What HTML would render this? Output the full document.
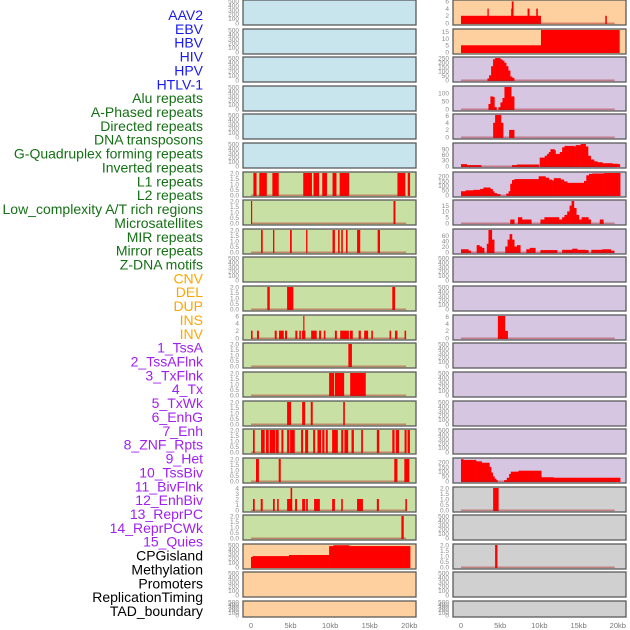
<!DOCTYPE html>
<html><head><meta charset="utf-8">
<style>
html,body{margin:0;padding:0;background:#fff;}
#wrap{position:relative;width:630px;height:630px;overflow:hidden;}
svg text{font-family:"Liberation Sans",sans-serif;}
</style></head>
<body>
<div id="wrap">
<svg id="chart" width="630" height="630" viewBox="0 0 630 630"></svg>
</div>
<script>
// ---- track labels ----
const trackLabels = ["AAV2","EBV","HBV","HIV","HPV","HTLV-1","Alu repeats","A-Phased repeats","Directed repeats","DNA transposons","G-Quadruplex forming repeats","Inverted repeats","L1 repeats","L2 repeats","Low_complexity A/T rich regions","Microsatellites","MIR repeats","Mirror repeats","Z-DNA motifs","CNV","DEL","DUP","INS","INV","1_TssA","2_TssAFlnk","3_TxFlnk","4_Tx","5_TxWk","6_EnhG","7_Enh","8_ZNF_Rpts","9_Het","10_TssBiv","11_BivFlnk","12_EnhBiv","13_ReprPC","14_ReprPCWk","15_Quies","CPGisland","Methylation","Promoters","ReplicationTiming","TAD_boundary"];
const labelGroups = [6,13,5,15,5];
const labelColors = ["#1a1aee","#157015","#ffa500","#a020f0","#000000"];
const xTickValues = [0,5,10,15,20];
const xTickLabels = ["0","5kb","10kb","15kb","20kb"];

// ---- left column interval data (kb) ----
const L6_s=[0.3,1.05,2.7,6.6,7.9,9.0,10.3,11.2,18.5,19.8];
const L6_e=[0.7,2.0,3.5,7.7,8.6,9.6,10.8,12.4,19.5,20.1];
const L7_s=[0,18.0];
const L7_e=[0.15,18.25];
const L8_s=[1.27,2.78,4.93,6.96,10.3,11.0,11.4,12.0,13.4,16.0];
const L8_e=[1.48,2.95,5.15,7.13,10.6,11.2,11.6,12.2,13.8,16.3];
const L10_s=[2.06,4.56,17.85];
const L10_e=[2.37,5.35,18.2];
const L11_s=[0,0.76,3.0,3.54,4.3,5.6,6.1,6.45,6.6,7.6,8.6,9.2,10.6,11.27,12.5,13.6,14.3,15.2,17.5,18.2,19.4];
const L11_e=[0.2,1.0,3.25,4.14,4.56,5.86,6.3,6.87,6.75,8.3,8.86,9.4,10.85,12.37,12.86,13.88,14.8,15.4,17.7,18.5,19.6];
const L11_v=[2,2,2,2,2,2,2,2,6,2,2,2,2,2,2,2,2,2,2,2,2];
const L12_s=[12.3];
const L12_e=[12.75];
const L13_s=[9.87,10.6,12.53];
const L13_e=[10.5,11.77,14.5];
const L14_s=[4.56,6.46,7.55,11.65];
const L14_e=[5.06,6.84,7.8,11.86];
const L15_s=[0.25,1.27,1.9,2.36,3.16,3.84,4.56,4.94,6.33,6.84,7.85,8.4,9.0,9.45,10.25,11.4,11.8,12.7,13.92,15.9,17.85,18.3,19.4,19.78];
const L15_e=[0.47,1.73,2.24,3.08,3.5,4.09,4.85,5.53,6.58,7.22,8.1,8.86,9.28,9.7,10.97,11.65,12.28,13.0,14.14,16.2,18.14,18.7,19.66,20.08];
const L16_s=[0.63,3.5,18.1,19.37];
const L16_e=[1.0,3.76,18.5,20.0];
const L17_s=[0.25,1.23,2.78,3.3,4.56,5.0,5.57,6.46,6.96,7.97,10.25,11.4,13.4,15.9,19.5];
const L17_e=[0.47,1.48,3.0,3.5,5.2,5.2,5.82,6.84,7.18,8.7,10.6,11.6,14.14,16.16,19.7];
const L17_v=[2,2,2,2,2,4,2,2,2,2,2,2,2,2,2];
const L18_s=[19.0];
const L18_e=[19.3];
const L19_bp=[0,0.2,4.8,9.87,10.4,12.4,20.1];
const L19_val=[230,250,275,480,500,480];

// ---- right column data (kb) ----
const R0_s=[0,3.37,6.4,6.48,8.49,9.6,18.4];
const R0_e=[10.2,3.54,6.48,6.7,8.74,9.8,18.6];
const R0_v=[2,4,4,6,4,4,2];
const R1_bp=[0,10.2,20.2];
const R1_val=[5,16.4];
const R2_bp=[3.37,3.58,3.84,4.09,4.35,4.99,5.25,5.5,5.76,6.01,6.27,6.52,6.78];
const R2_val=[18,54,160,240,255,240,225,200,160,110,40,25];
const R3_bp=[3.5,3.75,4.09,4.26,4.52,4.78,5.03,5.29,5.54,6.4,6.78];
const R3_val=[32,80,76,12,0,12,42,70,140,80];
const R4_bp=[4.1,4.35,5.1,5.37,6.14,6.78];
const R4_val=[4,6.2,4,0,2];
const R5_bp=[0,0.73,2.56,6.5,7.14,7.78,9.91,10.04,10.68,10.98,11.2,11.41,11.92,12.05,12.6,12.9,13.2,14.4,14.62,15.26,15.9,16.2,16.54,16.97,17.39,18.03,19.3,19.96,20.26];
const R5_val=[10,5,0,5,8,8,0,45,55,65,75,90,85,65,75,100,108,105,112,118,105,55,35,25,20,15,12,10];
const R6_bp=[0,0.6,1.58,2.44,2.86,3.72,4.02,4.23,4.57,5.0,5.77,6.07,6.28,6.5,6.8,7.56,9.91,10.77,11.2,11.62,11.84,12.69,13.12,13.55,15.68,15.98,16.32,16.75,18.25,20.3];
const R6_val=[40,50,55,65,80,65,40,20,10,0,15,40,120,160,170,170,200,185,165,155,180,165,145,130,150,210,225,230,235];
const R7_bp=[6.28,6.79,7.26,7.78,8.97,10.13,10.64,12.48,12.9,13.2,13.55,13.85,14.1,14.4,14.7,15.04,15.38,16.24,16.54,17.7,18.16];
const R7_val=[3,0,5,3,0,3,5,3,5,7,10,15,19,13,7,3,5,3,0,3];
const R8_bp=[0,0.94,1.24,2.0,2.35,2.65,2.95,3.29,3.5,3.93,4.23,5.64,5.94,6.2,6.5,6.79,7.14,7.56,8.33,8.76,9.48,10.13,12.26,12.9,14.19,14.83,15.9,16.24,16.62,18.03,19.1,19.53];
const R8_val=[10,5,0,25,20,15,0,30,80,45,0,20,45,65,45,20,25,0,10,15,0,7,0,8,12,8,7,0,8,10,5];
const R11_bp=[4.7,5.6,5.95];
const R11_val=[6.2,2];
const R16_bp=[0,0.3,1.92,2.64,3.62,3.84,4.05,4.26,4.48,4.65,5.5,5.84,6.14,6.35,7.33,10.23,11.81,20.3];
const R16_val=[233,225,210,195,150,90,50,25,10,0,10,35,75,100,110,40,35];
const R17_s=[4.1];
const R17_e=[4.8];
const R19_s=[4.35];
const R19_e=[4.65];

// ---- tick sets ----
const T500=[0,100,200,300,400,500];
const T2=[0,0.5,1.0,1.5,2.0];
const T6=[0,2,4,6];
const T4=[0,1,2,3,4];

const SVGNS="http://www.w3.org/2000/svg";
const svg=document.getElementById('chart');
function mk(tag,attrs){const el=document.createElementNS(SVGNS,tag);for(const k in attrs)el.setAttribute(k,attrs[k]);return el;}

const rowTops=[0,29,57,86,114,143,172,200,229,257,286,315,343,372,401,429,458,487,515,544,572,601];
const rowH=[25,25,25,25,25,25,25,25,25,25,25,25,25,25,25,25,25,25,25,25,25,16];
const BLUE="#c8e4ec",GREEN="#c8e0a4",ORANGE="#fed0a0",PURPLE="#d6c6e2",GREY="#d0d0d0";
const cols=[{x0:243,x1:416,k0:251,k20:409.3,tx:239},{x0:453,x1:626,k0:461,k20:617.8,tx:449}];

function leftBg(i){return i<6?BLUE:(i<19?GREEN:ORANGE);}
function rightBg(i){return i<2?ORANGE:(i<17?PURPLE:GREY);}

// panel specs: [ticks, ymax, tickDecimals, data]
const leftSpecs=[];
const rightSpecs=[];
for(let i=0;i<22;i++){leftSpecs.push({t:T500,ym:510,d:0,iv:null,pf:null});rightSpecs.push({t:T500,ym:510,d:0,iv:null,pf:null});}
function iv(s,e,v){return {s:s,e:e,v:v};}
leftSpecs[6]={t:T2,ym:2,d:1,iv:iv(L6_s,L6_e,null)};
leftSpecs[7]={t:T2,ym:2,d:1,iv:iv(L7_s,L7_e,null)};
leftSpecs[8]={t:T2,ym:2,d:1,iv:iv(L8_s,L8_e,null)};
leftSpecs[10]={t:T2,ym:2,d:1,iv:iv(L10_s,L10_e,null)};
leftSpecs[11]={t:T6,ym:6,d:0,iv:iv(L11_s,L11_e,L11_v)};
leftSpecs[12]={t:T2,ym:2,d:1,iv:iv(L12_s,L12_e,null)};
leftSpecs[13]={t:T2,ym:2,d:1,iv:iv(L13_s,L13_e,null)};
leftSpecs[14]={t:T2,ym:2,d:1,iv:iv(L14_s,L14_e,null)};
leftSpecs[15]={t:T2,ym:2,d:1,iv:iv(L15_s,L15_e,null)};
leftSpecs[16]={t:T2,ym:2,d:1,iv:iv(L16_s,L16_e,null)};
leftSpecs[17]={t:T4,ym:4,d:0,iv:iv(L17_s,L17_e,L17_v)};
leftSpecs[18]={t:T2,ym:2,d:1,iv:iv(L18_s,L18_e,null)};
leftSpecs[19]={t:T500,ym:505,d:0,pf:{bp:L19_bp,val:L19_val},nobase:true};

rightSpecs[0]={t:T6,ym:6.1,d:0,iv:iv(R0_s,R0_e,R0_v)};
rightSpecs[1]={t:[0,5,10,15],ym:16.4,d:0,pf:{bp:R1_bp,val:R1_val},nobase:true};
rightSpecs[2]={t:[0,50,100,150,200,250],ym:255,d:0,pf:{bp:R2_bp,val:R2_val}};
rightSpecs[3]={t:[0,50,100],ym:140,d:0,pf:{bp:R3_bp,val:R3_val}};
rightSpecs[4]={t:T6,ym:6.2,d:0,pf:{bp:R4_bp,val:R4_val}};
rightSpecs[5]={t:[0,30,60,90],ym:118,d:0,pf:{bp:R5_bp,val:R5_val}};
rightSpecs[6]={t:[0,50,100,150,200],ym:235,d:0,pf:{bp:R6_bp,val:R6_val}};
rightSpecs[7]={t:[0,5,10,15],ym:19,d:0,pf:{bp:R7_bp,val:R7_val}};
rightSpecs[8]={t:[0,20,40,60],ym:80,d:0,pf:{bp:R8_bp,val:R8_val}};
rightSpecs[11]={t:T6,ym:6.2,d:0,pf:{bp:R11_bp,val:R11_val}};
rightSpecs[16]={t:[0,50,100,150,200],ym:235,d:0,pf:{bp:R16_bp,val:R16_val}};
rightSpecs[17]={t:T2,ym:2,d:1,iv:iv(R17_s,R17_e,null)};
rightSpecs[19]={t:T2,ym:2,d:1,iv:iv(R19_s,R19_e,null)};

function drawPanel(ci,ri,spec,bg){
  const c=cols[ci];const top=rowTops[ri];const h=rowH[ri];
  const y0=top+h-2, yT=top+1;
  const xs=k=>c.k0+(c.k20-c.k0)*k/20;
  const ys=v=>y0-(y0-yT)*Math.min(v,spec.ym)/spec.ym;
  const g=mk('g',{});
  
  
  const bgr=mk('rect',{x:c.x0,y:top,width:c.x1-c.x0,height:h,fill:bg});
  
  
  g.appendChild(bgr);
  const hasData=!!(spec.iv||spec.pf);
  if(spec.pf){
    const bp=spec.pf.bp,val=spec.pf.val;
    for(let j=0;j<val.length;j++){
      if(val[j]<=0)continue;
      const x1=xs(bp[j]),x2=xs(bp[j+1]);
      const r=mk('rect',{x:x1,y:ys(val[j]),width:Math.max(0.6,x2-x1+0.3),height:y0-ys(val[j])+1,fill:'#ff0000'});
      
      
      g.appendChild(r);
    }
  }
  if(spec.iv){
    const s=spec.iv.s,e=spec.iv.e,v=spec.iv.v;
    for(let j=0;j<s.length;j++){
      const val=v?v[j]:spec.ym;
      const x1=xs(s[j]),x2=xs(e[j]);
      const r=mk('rect',{x:x1,y:ys(val),width:Math.max(1,x2-x1),height:y0-ys(val)+1,fill:'#ff0000'});
      
      
      g.appendChild(r);
    }
  }
  if(hasData&&!spec.nobase){
    const b=mk('rect',{x:xs(0),y:y0-0.5,width:xs(19.6)-xs(0),height:1.6,fill:'rgba(170,30,30,0.45)'});
    
    
    g.appendChild(b);
  }
  const br=mk('rect',{x:c.x0,y:top,width:c.x1-c.x0,height:h,fill:'none',stroke:'#5a5a5a','stroke-width':1.3});
  
  
  g.appendChild(br);
  for(const t of spec.t){
    const tx=mk('text',{x:c.tx,y:ys(t)+2.3,'font-size':6.5,fill:'#8a8a8a','text-anchor':'end'});
    tx.textContent=t.toFixed(spec.d);
    
    
    g.appendChild(tx);
  }
  svg.appendChild(g);
}
for(let i=0;i<22;i++){drawPanel(0,i,leftSpecs[i],leftBg(i));drawPanel(1,i,rightSpecs[i],rightBg(i));}

// x-axis labels
for(let ci=0;ci<2;ci++){
  const c=cols[ci];
  for(let j=0;j<xTickValues.length;j++){
    const x=c.k0+(c.k20-c.k0)*xTickValues[j]/20;
    const t=mk('text',{x:x,y:628,'font-size':7.5,fill:'#777','text-anchor':'middle'});
    t.textContent=xTickLabels[j];
    
    
    svg.appendChild(t);
  }
}

// track labels
let idx=0;
for(let gI=0;gI<labelGroups.length;gI++){
  for(let k=0;k<labelGroups[gI];k++){
    const y=15+idx*(596/43);
    const t=mk('text',{x:203,y:y+5,'font-size':14,fill:labelColors[gI],'text-anchor':'end'});
    t.textContent=trackLabels[idx];
    
    
    svg.appendChild(t);
    idx++;
  }
}
</script>
</body></html>
